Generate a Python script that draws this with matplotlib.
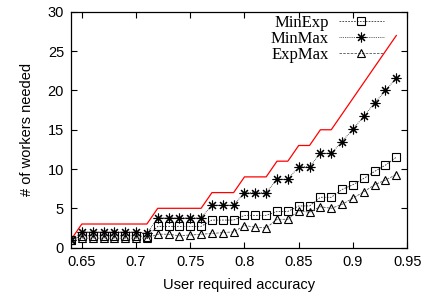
import matplotlib
matplotlib.use("Agg")
import matplotlib.pyplot as plt

accuracy = [0.64, 0.65, 0.66, 0.67, 0.68, 0.69, 0.70, 0.71, 0.72, 0.73, 0.74,
            0.75, 0.76, 0.77, 0.78, 0.79, 0.80, 0.81, 0.82, 0.83, 0.84, 0.85,
            0.86, 0.87, 0.88, 0.89, 0.90, 0.91, 0.92, 0.93, 0.94]

upper = [1, 3, 3, 3, 3, 3, 3, 3, 5, 5, 5, 5, 5, 7, 7, 7, 9, 9, 9, 11, 11,
         13, 13, 15, 15, 17, 19, 21, 23, 25, 27]

min_exp = [1.0, 1.5, 1.5, 1.5, 1.5, 1.5, 1.5, 1.4, 2.7, 2.7, 2.7, 2.7, 2.7,
           3.5, 3.5, 3.5, 4.1, 4.1, 4.1, 4.6, 4.6, 5.3, 5.3, 6.4, 6.4,
           7.4, 8.0, 8.8, 9.7, 10.5, 11.5]

min_max = [1.0, 2.0, 2.0, 2.0, 2.0, 2.0, 2.0, 1.8, 3.8, 3.8, 3.8, 3.8, 3.8,
           5.4, 5.4, 5.4, 7.0, 7.0, 7.0, 8.7, 8.7, 10.3, 10.3, 12.0, 12.0,
           13.5, 15.1, 16.7, 18.4, 20.0, 21.6]

exp_max = [1.0, 1.2, 1.2, 1.2, 1.2, 1.2, 1.2, 1.2, 1.7, 1.7, 1.5, 1.6, 1.7,
           1.8, 1.9, 2.0, 2.8, 2.6, 2.5, 3.6, 3.6, 4.7, 4.5, 5.2, 5.0,
           5.5, 6.3, 7.1, 8.0, 8.6, 9.3]

sans = ["Liberation Sans", "DejaVu Sans"]
serif = ["Liberation Serif", "DejaVu Serif"]

fig = plt.figure(figsize=(4.25, 2.99), dpi=100)
ax = fig.add_axes([0.167, 0.172, 0.791, 0.788])

ax.plot(accuracy, upper, color="red", linewidth=0.9)
ax.plot(accuracy, min_exp, color="#333333", linestyle=(0, (2, 1.5)), linewidth=0.6,
        marker="s", markersize=6, markerfacecolor="none", markeredgecolor="black",
        markeredgewidth=0.8, label="MinExp")
ax.plot(accuracy, min_max, color="#333333", linestyle=(0, (1, 1.2)), linewidth=0.6,
        marker=(8, 2, 0), markersize=7, markeredgecolor="black",
        markeredgewidth=0.8, label="MinMax")
ax.plot(accuracy, exp_max, color="#555555", linestyle=(0, (3, 1.5)), linewidth=0.6,
        marker="^", markersize=6, markerfacecolor="none", markeredgecolor="black",
        markeredgewidth=0.8, label="ExpMax")

ax.set_xlim(0.64, 0.95)
ax.set_ylim(0, 30)
ax.set_xticks([0.65, 0.7, 0.75, 0.8, 0.85, 0.9, 0.95])
ax.set_xticklabels(["0.65", "0.7", "0.75", "0.8", "0.85", "0.9", "0.95"])
ax.set_yticks([0, 5, 10, 15, 20, 25, 30])
ax.tick_params(direction="in", length=4, width=0.8, top=True, right=True,
               labelsize=10.5, pad=5)
for lbl in ax.get_xticklabels() + ax.get_yticklabels():
    lbl.set_family(sans)
for s in ax.spines.values():
    s.set_linewidth(0.9)

ax.set_xlabel("User required accuracy", family=sans, fontsize=10.5, labelpad=7)
ax.set_ylabel("# of workers needed", family=sans, fontsize=10.5, labelpad=10)

ax.legend(loc="upper right", bbox_to_anchor=(0.96, 1.03), frameon=False,
          markerfirst=False, prop={"family": serif, "size": 12},
          handlelength=2.7, handletextpad=0.6, labelspacing=0.0,
          borderaxespad=0.2)

fig.savefig("out.png", dpi=100)
